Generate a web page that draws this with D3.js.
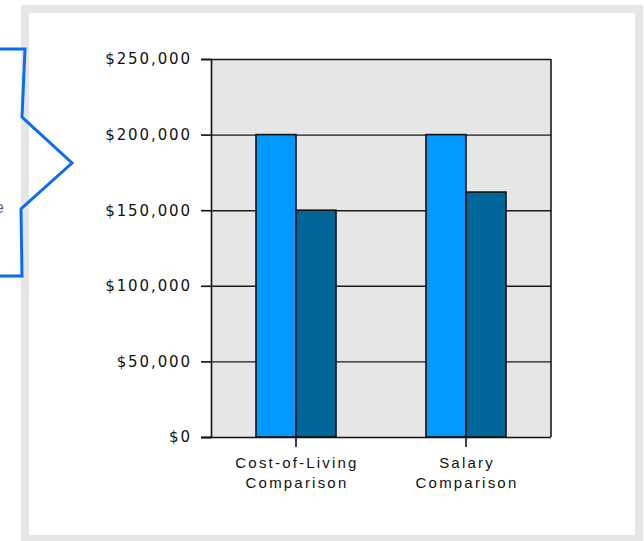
<!DOCTYPE html>
<html>
   <head>
      <script src="https://d3js.org/d3.v7.min.js"></script>
   </head>
   <style>
      body { margin: 0; background: #fff; }
   </style>
   <body>
      <script>
         let [width, height] = [644, 541];
         let plot = { left: 211, right: 551, top: 59, bottom: 437 };

         // chart data
         let categories = ['Cost-of-Living Comparison', 'Salary Comparison'];
         let categoryLines = [['Cost-of-Living', 'Comparison'], ['Salary', 'Comparison']];
         let series = ['first', 'second'];
         let firstValues = [200000, 200000];
         let secondValues = [150000, 162000];
         let yTicks = [0, 50000, 100000, 150000, 200000, 250000];
         let colors = ['#0099ff', '#006699'];

         let svg = d3.select('body').append('svg')
            .attr('width', width).attr('height', height);

         // outer frame
         svg.append('rect')
            .attr('x', 25).attr('y', 9).attr('width', 614).attr('height', 530)
            .attr('fill', '#fff').attr('stroke', '#e6e6e6').attr('stroke-width', 8);

         // callout cut off at the left edge
         svg.append('path')
            .attr('d', 'M-5,49 L25,49 L22,117 L72,163 L21,209 L22,276 L-5,276')
            .attr('fill', 'none').attr('stroke', '#0a6cf5').attr('stroke-width', 3)
            .attr('stroke-linejoin', 'miter');
         svg.append('text')
            .attr('x', 4).attr('y', 213)
            .style('text-anchor', 'end')
            .style('font-family', 'Liberation Sans')
            .style('font-size', '16px')
            .attr('fill', '#56658a')
            .text('Compare');

         let x = d3.scaleBand().domain(categories).range([plot.left, plot.right]);
         let xInner = d3.scaleBand().domain(series).range([0, x.bandwidth()]).paddingOuter(1.125);
         let y = d3.scaleLinear().domain([0, 250000]).range([plot.bottom, plot.top]);

         // plot background
         svg.append('rect')
            .attr('x', plot.left).attr('y', plot.top)
            .attr('width', plot.right - plot.left).attr('height', plot.bottom - plot.top)
            .attr('fill', '#e6e6e6');

         // grid lines
         svg.selectAll('.grid')
            .data(yTicks.slice(1))
            .enter()
            .append('line')
               .attr('x1', plot.left).attr('x2', plot.right)
               .attr('y1', (d) => y(d) + 0.5).attr('y2', (d) => y(d) + 0.5)
               .attr('stroke', '#1a1a1a').attr('stroke-width', 1.4);
         svg.append('line')
            .attr('x1', plot.right).attr('x2', plot.right)
            .attr('y1', plot.top).attr('y2', plot.bottom)
            .attr('stroke', '#1a1a1a').attr('stroke-width', 1.6);

         // bars
         let groups = svg.selectAll('.group')
            .data(categories)
            .enter()
            .append('g')
               .attr('transform', (d) => `translate(${x(d)}, 0)`);

         groups.selectAll('rect')
            .data((d, i) => [firstValues[i], secondValues[i]])
            .enter()
            .append('rect')
               .attr('x', (d, j) => xInner(series[j]))
               .attr('width', xInner.bandwidth())
               .attr('y', (d) => y(d))
               .attr('height', (d) => y(0) - y(d))
               .attr('fill', (d, j) => colors[j])
               .attr('stroke', '#111')
               .attr('stroke-width', 1.6);

         // y axis
         let yAxis = svg.append('g')
            .attr('transform', `translate(${plot.left}, 0)`)
            .call(d3.axisLeft(y).tickValues(yTicks).tickSize(10).tickPadding(9)
               .tickFormat((d) => '$' + d3.format(',')(d)));
         yAxis.select('.domain').attr('stroke', '#111').attr('stroke-width', 1.6);
         yAxis.selectAll('.tick line').attr('stroke', '#111').attr('stroke-width', 1.6);
         yAxis.selectAll('text')
            .attr('fill', '#111')
            .style('font-family', 'DejaVu Sans')
            .style('font-size', '15px')
            .style('letter-spacing', '1.9px');

         // x axis
         let xAxis = svg.append('g')
            .attr('transform', `translate(0, ${plot.bottom})`)
            .call(d3.axisBottom(x).tickSize(10).tickSizeOuter(0).tickFormat(''));
         xAxis.select('.domain').attr('stroke', '#111').attr('stroke-width', 1.6)
            .attr('d', `M${plot.left - 10},0.5H${plot.right}`);
         xAxis.selectAll('.tick line').attr('stroke', '#111').attr('stroke-width', 1.6);

         xAxis.selectAll('.tick')
            .append('text')
            .attr('fill', '#111')
            .style('font-family', 'Liberation Sans')
            .style('font-size', '15px')
            .style('letter-spacing', '2.2px')
            .style('text-anchor', 'middle')
            .selectAll('tspan')
            .data((d, i) => categoryLines[i])
            .enter()
            .append('tspan')
               .attr('x', 1)
               .attr('y', (d, k) => 31 + k * 20)
               .text((d) => d);
      </script>
   </body>
</html>
